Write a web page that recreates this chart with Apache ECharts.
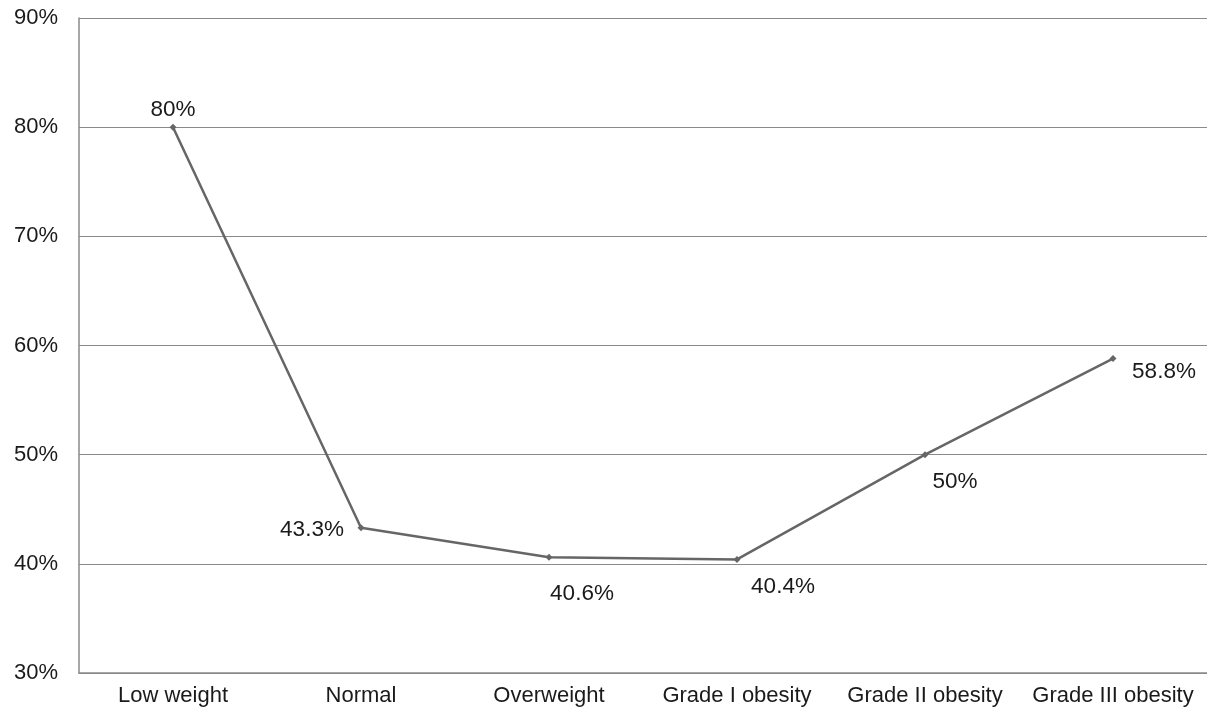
<!DOCTYPE html>
<html>
<head>
<meta charset="utf-8">
<script src="https://cdn.jsdelivr.net/npm/echarts@6/dist/echarts.min.js"></script>
<style>html,body{margin:0;padding:0;background:#fff}#c{width:1207px;height:714px}</style>
</head>
<body>
<div id="c"></div>
<script>
var categories = ['Low weight', 'Normal', 'Overweight', 'Grade I obesity', 'Grade II obesity', 'Grade III obesity'];
var values = [80, 43.3, 40.6, 40.4, 50, 58.8];
var valueLabels = ['80%', '43.3%', '40.6%', '40.4%', '50%', '58.8%'];
var labelOffsets = [[0, -17], [-49, 2], [33, 37], [46, 27], [30, 27], [51, 13]];

var chart = echarts.init(document.getElementById('c'));
var data = values.map(function (v, i) {
  return {
    value: v,
    label: { show: true, position: 'inside', offset: labelOffsets[i], formatter: valueLabels[i] }
  };
});
chart.setOption({
  animation: false,
  backgroundColor: '#fff',
  grid: { left: 79, right: 0, top: 18, bottom: 41 },
  xAxis: {
    type: 'category',
    data: categories,
    boundaryGap: true,
    axisLine: { show: true, lineStyle: { color: '#8a8a8a', width: 1.5 } },
    axisTick: { show: false },
    axisLabel: { interval: 0, hideOverlap: false, color: '#1a1a1a', fontSize: 22, fontFamily: 'Liberation Sans', margin: 12 }
  },
  yAxis: {
    type: 'value',
    min: 30, max: 90, interval: 10,
    axisLine: { show: true, lineStyle: { color: '#8a8a8a', width: 1.5 } },
    axisTick: { show: false },
    splitLine: { show: true, lineStyle: { color: '#8a8a8a', width: 1.2 } },
    axisLabel: { formatter: '{value}%', color: '#1a1a1a', fontSize: 22, fontFamily: 'Liberation Sans', margin: 21 }
  },
  series: [{
    type: 'line',
    data: data,
    symbol: 'diamond',
    symbolSize: 7,
    lineStyle: { color: '#666', width: 2.5 },
    itemStyle: { color: '#666' },
    label: { color: '#1a1a1a', fontSize: 22.5, fontFamily: 'Liberation Sans' }
  }]
});
</script>
</body>
</html>
